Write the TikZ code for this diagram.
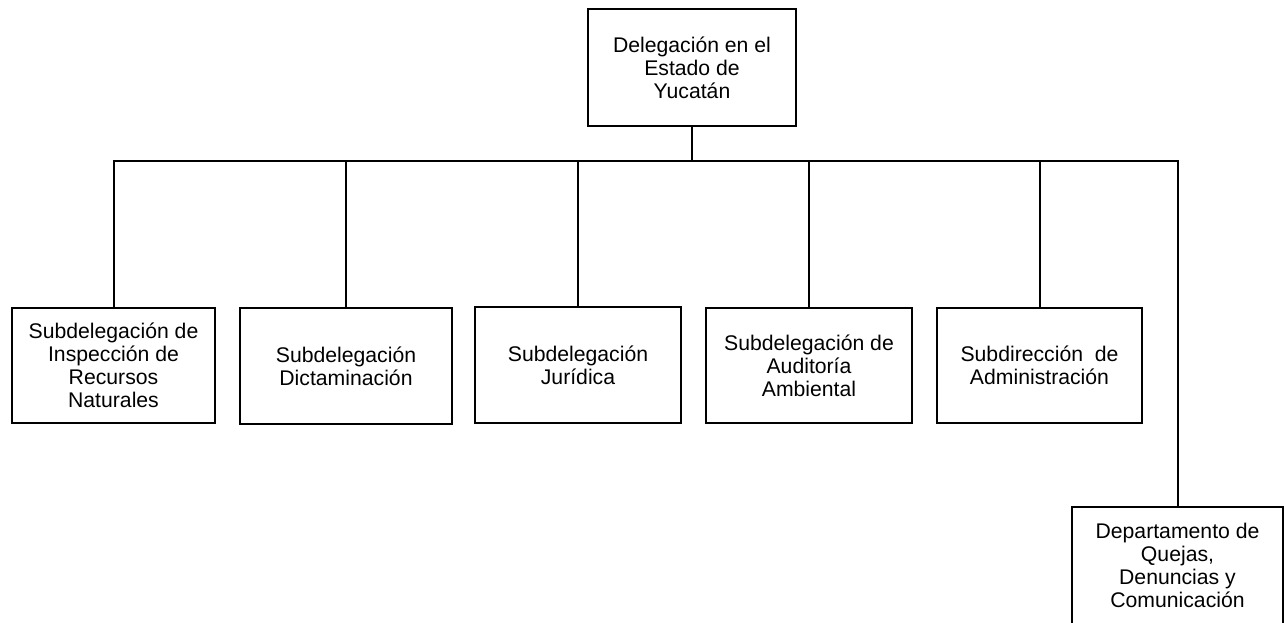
\documentclass[tikz,border=0pt]{standalone}
\usepackage{fontspec}
\setmainfont{Liberation Sans}
\begin{document}
\begin{tikzpicture}[x=1pt, y=-1pt,
    unidad/.style={draw, line width=2pt, align=center, inner sep=0pt,
        font=\fontsize{21.2}{23}\selectfont}]
    \useasboundingbox (0,0) rectangle (1284,623);

    % Delegacion
    \node[unidad, minimum width=208, minimum height=117] (deleg) at (692,67.5)
        {Delegación en el\\Estado de\\Yucatán};

    % Subdelegaciones
    \node[unidad, minimum width=203, minimum height=115] (insp) at (113.5,365.5)
        {Subdelegación de\\Inspección de\\Recursos\\Naturales};
    \node[unidad, minimum width=212, minimum height=116] (dict) at (346,366)
        {Subdelegación\\Dictaminación};
    \node[unidad, minimum width=206, minimum height=116] (jur) at (578,365)
        {Subdelegación\\Jurídica};
    \node[unidad, minimum width=206, minimum height=115] (audit) at (809,365.5)
        {Subdelegación de\\Auditoría\\Ambiental};
    \node[unidad, minimum width=205, minimum height=115] (admin) at (1039.5,365.5)
        {Subdirección\ \ de\\Administración};

    % Departamento
    \node[unidad, minimum width=211, minimum height=117] (quejas) at (1177.5,565)
        {Departamento de\\Quejas,\\Denuncias y\\Comunicación};

    % Conectores
    \foreach \u in {insp, dict, jur, audit, admin, quejas}
        \draw[line width=2pt] (deleg.south) -- ++(0,33.5) -| (\u.north);

\end{tikzpicture}
\end{document}
